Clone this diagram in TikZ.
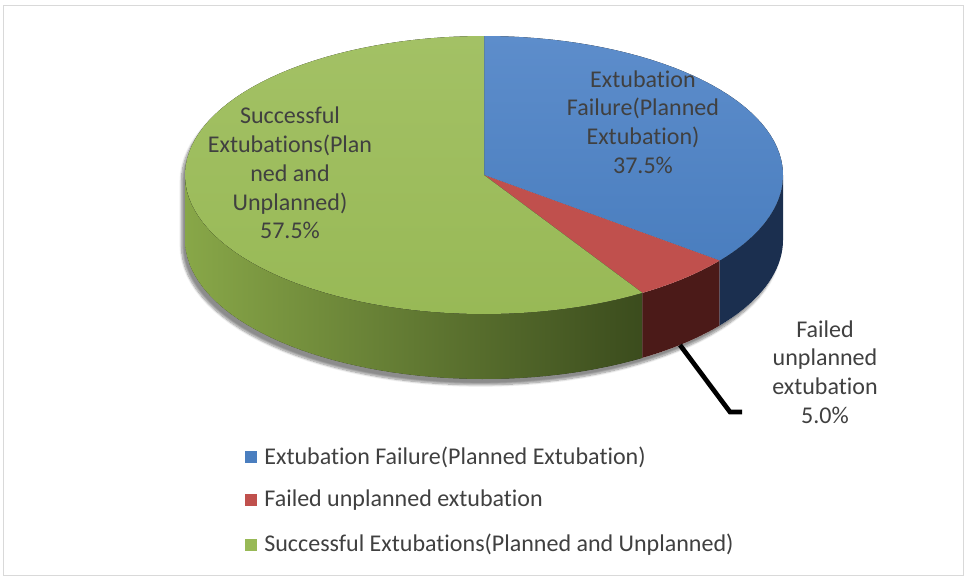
\documentclass[tikz,border=0pt]{standalone}
\usepackage{fontspec}
\setmainfont{Carlito}[RawFeature={-liga,-clig,-calt,-dlig}]
\definecolor{exBlue}{HTML}{4A7EBF}
\definecolor{exBlueTop}{HTML}{5D8DCB}
\definecolor{exBlueSide}{HTML}{1B2F4F}
\definecolor{exRed}{HTML}{C0504D}
\definecolor{exRedSide}{HTML}{4B1A18}
\definecolor{exGreen}{HTML}{98B956}
\definecolor{exGreenTop}{HTML}{A3C165}
\definecolor{exGreenSideL}{HTML}{88A748}
\definecolor{exGreenSideR}{HTML}{3B4C1D}
\definecolor{exText}{HTML}{404040}
\usetikzlibrary{positioning, shadows.blur}

\begin{document}
\begin{tikzpicture}[x=0.03cm, y=-0.03cm,
  lbl/.style={align=center, text=exText, inner sep=0pt,
    font=\fontsize{20.5}{24.6}\selectfont},
  key/.style={minimum size=10pt, inner sep=0pt},
  legtext/.style={text=exText, inner sep=0pt, anchor=west,
    font=\fontsize{20.5}{24.6}\selectfont}]
  \useasboundingbox (0,0) rectangle (965,578);
  \draw[black!15, line width=0.8pt] (3,5) rectangle (963,575);
  \coordinate (c) at (484,175);
  % silhouette with shadow
  \fill[white, blur shadow={shadow xshift=-3pt, shadow yshift=-5pt,
      shadow blur steps=10, shadow opacity=45}]
    plot[domain=0:180, samples=60] ({484+299*cos(\x)},{175-139*sin(\x)})
    -- plot[domain=180:360, samples=60] ({484+299*cos(\x)},{240-139*sin(\x)})
    -- cycle;
  % side faces
  \fill[left color=exGreenSideL, right color=exGreenSideR]
    plot[domain=180:302, samples=50] ({484+299*cos(\x)},{175-139*sin(\x)})
    -- plot[domain=302:180, samples=50] ({484+299*cos(\x)},{240-139*sin(\x)})
    -- cycle;
  \fill[exRedSide]
    plot[domain=302:322, samples=12] ({484+299*cos(\x)},{175-139*sin(\x)})
    -- plot[domain=322:302, samples=12] ({484+299*cos(\x)},{240-139*sin(\x)})
    -- cycle;
  \fill[exBlueSide]
    plot[domain=322:360, samples=20] ({484+299*cos(\x)},{175-139*sin(\x)})
    -- plot[domain=360:322, samples=20] ({484+299*cos(\x)},{240-139*sin(\x)})
    -- cycle;
  % top faces
  \fill[top color=exBlueTop, bottom color=exBlue] (c)
    -- plot[domain=90:-38, samples=50] ({484+299*cos(\x)},{175-139*sin(\x)})
    -- cycle;
  \fill[exRed] (c)
    -- plot[domain=-38:-58, samples=12] ({484+299*cos(\x)},{175-139*sin(\x)})
    -- cycle;
  \fill[top color=exGreenTop, bottom color=exGreen] (c)
    -- plot[domain=-58:-270, samples=80] ({484+299*cos(\x)},{175-139*sin(\x)})
    -- cycle;
  % data labels
  \node[lbl] (lblBlue) at (643,122) {Extubation\\Failure(Planned\\Extubation)\\37.5\%};
  \node[lbl] (lblGreen) at (290,173) {Successful\\Extubations(Plan\\ned and\\Unplanned)\\57.5\%};
  \node[lbl] (lblRed) at (825,372) {Failed\\unplanned\\extubation\\5.0\%};
  \coordinate (leadA) at (680,345);
  \coordinate (leadB) at (730,412);
  \coordinate (leadC) at (742,412);
  \draw[line width=4pt, line join=miter] (leadA) -- (leadB) -- (leadC);
  % legend
  \node[key, fill=exBlue] (k1) at (251,457) {};
  \node[legtext, right=6pt of k1] (t1) {Extubation Failure(Planned Extubation)};
  \node[key, fill=exRed] (k2) at (251,500) {};
  \node[legtext, right=6pt of k2] (t2) {Failed unplanned extubation};
  \node[key, fill=exGreen] (k3) at (251,545) {};
  \node[legtext, right=6pt of k3] (t3) {Successful Extubations(Planned and Unplanned)};
\end{tikzpicture}
\end{document}
